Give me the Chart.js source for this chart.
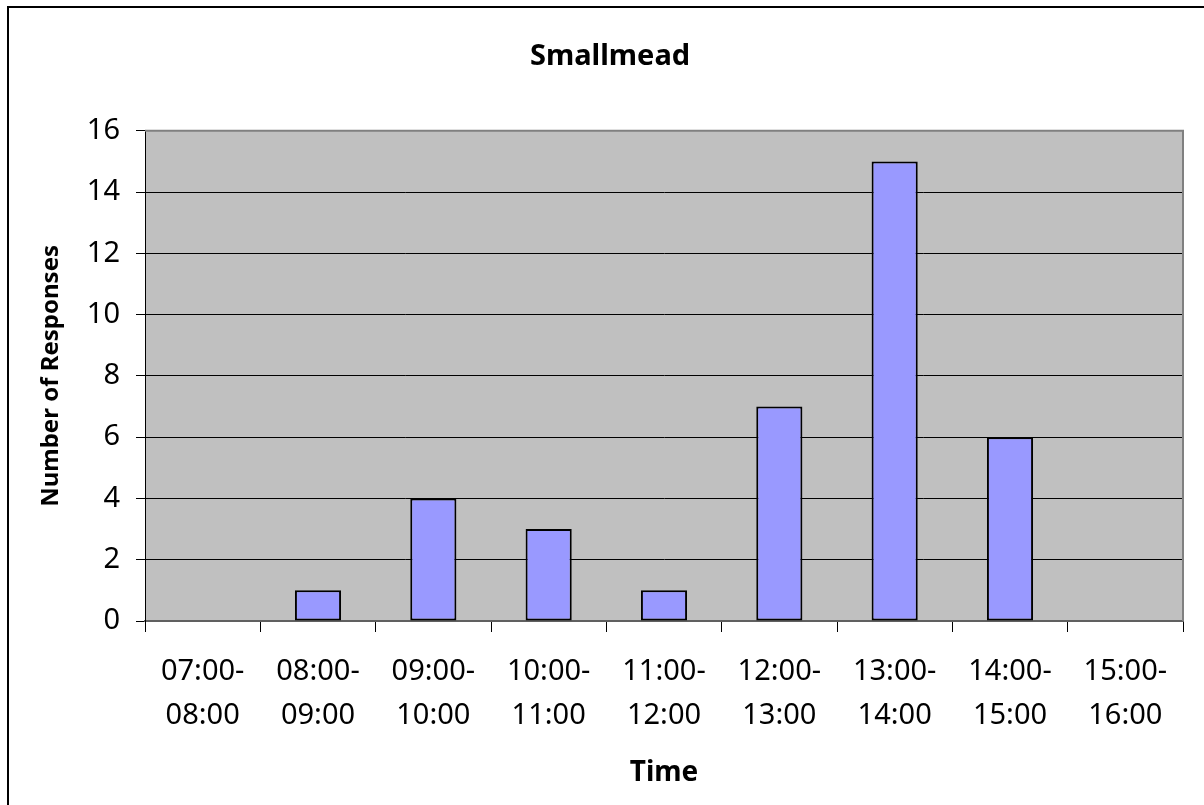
<!DOCTYPE html>
<html>
<head>
<meta charset="utf-8">
<script src="https://cdn.jsdelivr.net/npm/chart.js@4/dist/chart.umd.min.js"></script>
<style>
  html, body { margin: 0; padding: 0; background: #fff; }
  #wrap { width: 1204px; height: 805px; position: relative; }
</style>
</head>
<body>
<div id="wrap"><canvas id="chart" width="1204" height="805"></canvas></div>
<script>
// Responses per hourly time slot
const categories = [
  ['07:00-', '08:00'], ['08:00-', '09:00'], ['09:00-', '10:00'],
  ['10:00-', '11:00'], ['11:00-', '12:00'], ['12:00-', '13:00'],
  ['13:00-', '14:00'], ['14:00-', '15:00'], ['15:00-', '16:00']
];
const responses = [0, 1, 4, 3, 1, 7, 15, 6, 0];
const yTicks = [0, 2, 4, 6, 8, 10, 12, 14, 16];

const FONT = "'Noto Sans', 'DejaVu Sans', sans-serif";

// Outer frame plus grey plot background
const framePlugin = {
  id: 'frame',
  beforeDraw(chart) {
    const { ctx, chartArea: a } = chart;
    ctx.save();
    ctx.fillStyle = '#ffffff';
    ctx.fillRect(0, 0, chart.width, chart.height);
    ctx.strokeStyle = '#000000';
    ctx.lineWidth = 2;
    ctx.strokeRect(8, 7, chart.width + 40, chart.height + 40);
    ctx.fillStyle = '#c0c0c0';
    ctx.fillRect(a.left, a.top, a.right - a.left, a.bottom - a.top);
    ctx.restore();
  },
  beforeDatasetsDraw(chart) {
    const { ctx, chartArea: a } = chart;
    ctx.save();
    ctx.strokeStyle = '#808080';
    ctx.lineWidth = 2;
    ctx.beginPath();
    ctx.moveTo(a.left, a.top);
    ctx.lineTo(a.right, a.top);
    ctx.lineTo(a.right, a.bottom);
    ctx.stroke();
    ctx.restore();
  }
};

new Chart(document.getElementById('chart'), {
  type: 'bar',
  data: {
    labels: categories,
    datasets: [{
      label: 'Responses',
      data: responses,
      backgroundColor: '#9999ff',
      borderColor: '#000000',
      borderWidth: 2,
      borderSkipped: false,
      barPercentage: 0.4,
      categoryPercentage: 1.0
    }]
  },
  options: {
    responsive: false,
    animation: false,
    layout: { padding: { left: 37, right: 21, top: 0, bottom: 0 } },
    plugins: {
      legend: { display: false },
      tooltip: { enabled: false },
      title: {
        display: true,
        text: 'Smallmead',
        color: '#000',
        font: { family: FONT, size: 29, weight: 'bold', lineHeight: 1.2 },
        padding: { top: 39, bottom: 57 }
      }
    },
    scales: {
      x: {
        grid: {
          display: true,
          drawOnChartArea: false,
          drawTicks: true,
          tickLength: 11,
          offset: true,
          color: '#000000',
          lineWidth: 1
        },
        border: { display: true, color: '#606060', width: 2 },
        ticks: {
          color: '#000',
          padding: 18,
          maxRotation: 0,
          autoSkip: false,
          font: { family: FONT, size: 29, lineHeight: 44 / 29 }
        },
        title: {
          display: true,
          text: 'Time',
          color: '#000',
          font: { family: FONT, size: 28, weight: 'bold', lineHeight: 1.2 },
          padding: { top: 0, bottom: 15 }
        },
        afterFit(scale) { scale.height = 184; }
      },
      y: {
        min: 0,
        max: 16,
        afterBuildTicks(scale) { scale.ticks = yTicks.map(v => ({ value: v })); },
        grid: {
          display: true,
          drawOnChartArea: true,
          drawTicks: true,
          tickLength: 9,
          color: '#000000',
          lineWidth: 1
        },
        border: { display: true, color: '#000000', width: 1 },
        ticks: {
          color: '#000',
          padding: 16,
          font: { family: FONT, size: 29 }
        },
        title: {
          display: true,
          text: 'Number of Responses',
          color: '#000',
          font: { family: FONT, size: 24, weight: 'bold', lineHeight: 1.2 },
          padding: { top: 0, bottom: 0 }
        },
        afterFit(scale) { scale.width = 108; }
      }
    }
  },
  plugins: [framePlugin]
});
</script>
</body>
</html>
